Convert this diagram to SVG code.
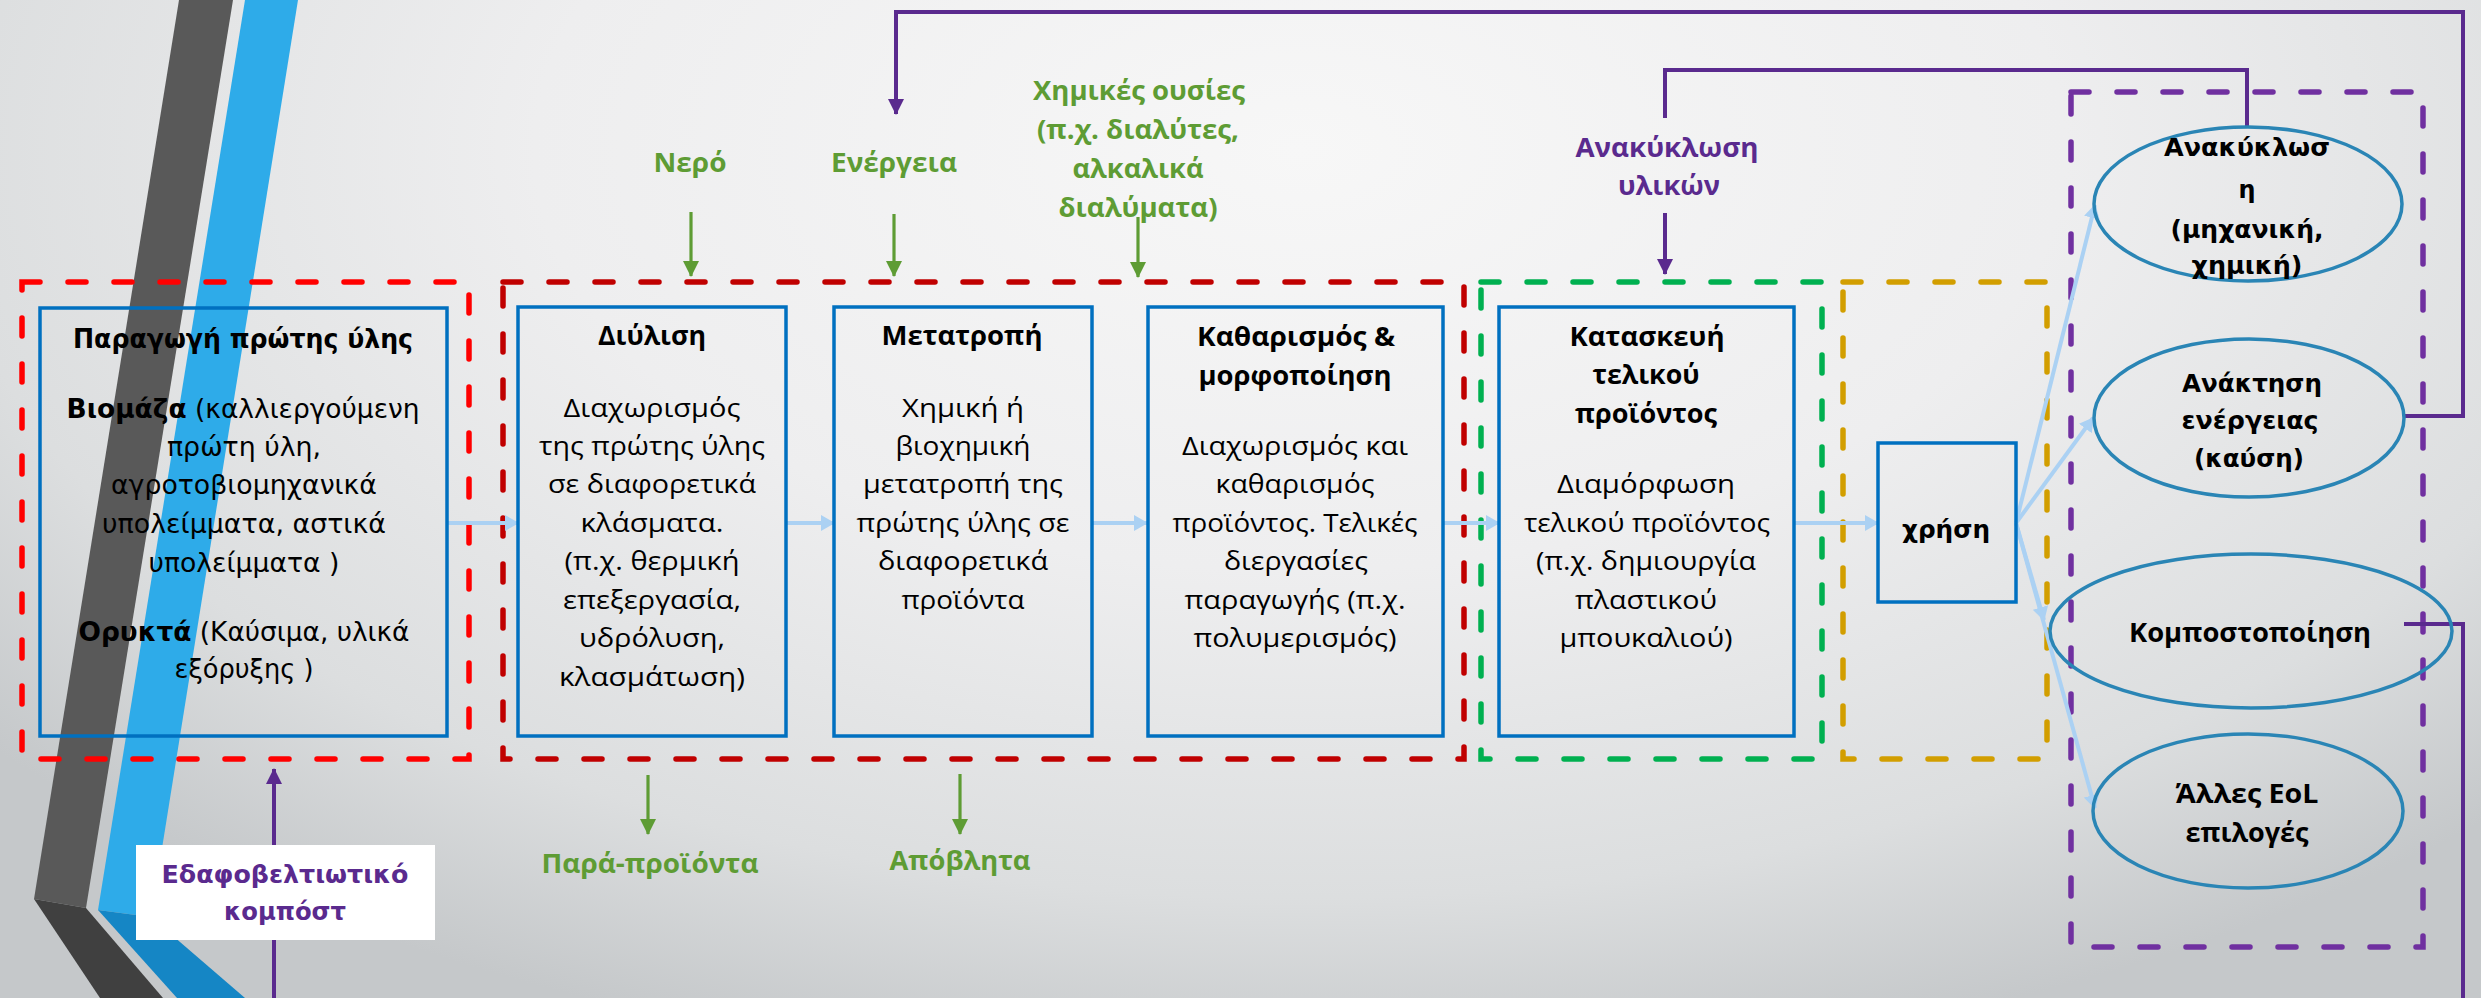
<svg xmlns="http://www.w3.org/2000/svg" width="2481" height="998" viewBox="0 0 2481 998">
<defs>
<radialGradient id="bg" cx="1300" cy="150" r="1700" gradientUnits="userSpaceOnUse" gradientTransform="translate(1300 150) scale(1 0.55) translate(-1300 -150)">
<stop offset="0" stop-color="#f7f7f7"/>
<stop offset="0.45" stop-color="#eeeeef"/>
<stop offset="0.8" stop-color="#dcdedf"/>
<stop offset="1" stop-color="#c5c8ca"/>
</radialGradient>
<marker id="ab" markerUnits="userSpaceOnUse" viewBox="0 0 14 16" markerWidth="14" markerHeight="16" refX="13" refY="8" orient="auto"><path d="M0,0 L14,8 L0,16 z" fill="#abd1f3"/></marker>
<marker id="ag" markerUnits="userSpaceOnUse" viewBox="0 0 16 16" markerWidth="16" markerHeight="16" refX="15" refY="8" orient="auto"><path d="M0,0 L16,8 L0,16 z" fill="#5e9c34"/></marker>
<marker id="ap" markerUnits="userSpaceOnUse" viewBox="0 0 16 16" markerWidth="16" markerHeight="16" refX="15" refY="8" orient="auto"><path d="M0,0 L16,8 L0,16 z" fill="#5a2a8e"/></marker>
</defs>
<style>
.frame{fill:none;stroke-width:5.5;stroke-linecap:round;stroke-dasharray:18 28}
.box{fill:none;stroke:#0070c0;stroke-width:3.5}
.ell{fill:none;stroke:#2a85b5;stroke-width:3.5}
.t{font-family:"DejaVu Sans","Noto Sans",sans-serif;font-size:26px;text-anchor:middle;fill:#000}
.c{font-family:"Open Sans","Noto Sans",sans-serif;font-size:25px;text-anchor:middle;fill:#000}
.h{font-size:27px;font-weight:bold}
.b{font-weight:bold}
.e{font-size:24px;font-weight:bold}
.g{fill:#5e9c34;font-weight:bold;font-size:27px}
.p{fill:#5a2a8e;font-weight:bold;font-size:27px}
.k{fill:#5a2a8e;font-weight:bold;font-size:25px}
.flow{stroke:#abd1f3;stroke-width:4;fill:none;marker-end:url(#ab)}
.gl{stroke:#5e9c34;stroke-width:3.2;fill:none;marker-end:url(#ag)}
.pl{stroke:#5a2a8e;stroke-width:4;fill:none}
</style>
<rect width="2481" height="998" fill="url(#bg)"/>
<g id="decor">
<polygon points="179,0 233,0 86,908 34,899" fill="#595959"/>
<polygon points="34,899 86,908 163,998 100,998" fill="#404040"/>
<polygon points="245,0 298,0 151,917 98,910" fill="#2eabe9"/>
<polygon points="98,910 151,917 245,998 177,998" fill="#1586c5"/>
</g>
<g id="frames">
<rect class="frame" x="22" y="282" width="447" height="477" stroke="#ff0000"/>
<rect class="frame" x="503" y="282" width="961" height="477" stroke="#c00000"/>
<rect class="frame" x="1481" y="282" width="341" height="477" stroke="#00b050"/>
<rect class="frame" x="1843" y="282" width="204" height="477" stroke="#d29e00"/>
<rect class="frame" x="2071" y="92" width="352" height="855" stroke="#7030a0"/>
</g>
<g id="connectors">
<path class="flow" d="M447,523 H518"/>
<path class="flow" d="M786,523 H834"/>
<path class="flow" d="M1092,523 H1147"/>
<path class="flow" d="M1443,523 H1499"/>
<path class="flow" d="M1794,523 H1878"/>
<path class="flow" d="M2016,523 L2095,205"/>
<path class="flow" d="M2016,523 L2093,418"/>
<path class="flow" d="M2016,523 L2044,620"/>
<path class="flow" d="M2016,523 L2095,808"/>
<path class="gl" d="M691,212 V276"/>
<path class="gl" d="M894,214 V276"/>
<path class="gl" d="M1138,217 V277"/>
<path class="gl" d="M648,775 V834"/>
<path class="gl" d="M960,774 V834"/>
<path class="pl" d="M1665,213 V274" marker-end="url(#ap)"/>
<path class="pl" d="M274,998 V769" marker-end="url(#ap)"/>
<path class="pl" d="M2247,127 V70 H1665 V118"/>
<path class="pl" d="M2404,416 H2463 V12 H896 V114" marker-end="url(#ap)"/>
<path class="pl" d="M2404,624 H2463 V998"/>
</g>
<g id="raw-material">
<rect class="box" x="40" y="308" width="407" height="428"/>
<text class="t b" x="243" y="348" textLength="340" lengthAdjust="spacingAndGlyphs">Παραγωγή πρώτης ύλης</text>
<text class="t" x="243" y="418" textLength="353" lengthAdjust="spacingAndGlyphs"><tspan font-weight="bold">Βιομάζα</tspan> (καλλιεργούμενη</text>
<text class="t" x="244" y="456" textLength="154" lengthAdjust="spacingAndGlyphs">πρώτη ύλη,</text>
<text class="t" x="244" y="494" textLength="266" lengthAdjust="spacingAndGlyphs">αγροτοβιομηχανικά</text>
<text class="t" x="244" y="533" textLength="284" lengthAdjust="spacingAndGlyphs">υπολείμματα, αστικά</text>
<text class="t" x="244" y="572" textLength="191" lengthAdjust="spacingAndGlyphs">υπολείμματα )</text>
<text class="t" x="244" y="641" textLength="331" lengthAdjust="spacingAndGlyphs"><tspan font-weight="bold">Ορυκτά</tspan> (Καύσιμα, υλικά</text>
<text class="t" x="244" y="678" textLength="139" lengthAdjust="spacingAndGlyphs">εξόρυξης )</text>
</g>
<g id="refining">
<rect class="box" x="518" y="307" width="268" height="429"/>
<text class="c h" x="652" y="345" textLength="108" lengthAdjust="spacingAndGlyphs">Διύλιση</text>
<text class="c" x="652" y="417" textLength="177" lengthAdjust="spacingAndGlyphs">Διαχωρισμός</text>
<text class="c" x="652" y="455" textLength="226" lengthAdjust="spacingAndGlyphs">της πρώτης ύλης</text>
<text class="c" x="652" y="493" textLength="208" lengthAdjust="spacingAndGlyphs">σε διαφορετικά</text>
<text class="c" x="652" y="532" textLength="143" lengthAdjust="spacingAndGlyphs">κλάσματα.</text>
<text class="c" x="652" y="570" textLength="175" lengthAdjust="spacingAndGlyphs">(π.χ. θερμική</text>
<text class="c" x="652" y="609" textLength="178" lengthAdjust="spacingAndGlyphs">επεξεργασία,</text>
<text class="c" x="652" y="647" textLength="146" lengthAdjust="spacingAndGlyphs">υδρόλυση,</text>
<text class="c" x="652" y="686" textLength="186" lengthAdjust="spacingAndGlyphs">κλασμάτωση)</text>
</g>
<g id="conversion">
<rect class="box" x="834" y="307" width="258" height="429"/>
<text class="c h" x="962" y="345" textLength="161" lengthAdjust="spacingAndGlyphs">Μετατροπή</text>
<text class="c" x="963" y="417" textLength="122" lengthAdjust="spacingAndGlyphs">Χημική ή</text>
<text class="c" x="963" y="455" textLength="135" lengthAdjust="spacingAndGlyphs">βιοχημική</text>
<text class="c" x="963" y="493" textLength="200" lengthAdjust="spacingAndGlyphs">μετατροπή της</text>
<text class="c" x="963" y="532" textLength="213" lengthAdjust="spacingAndGlyphs">πρώτης ύλης σε</text>
<text class="c" x="963" y="570" textLength="170" lengthAdjust="spacingAndGlyphs">διαφορετικά</text>
<text class="c" x="963" y="609" textLength="123" lengthAdjust="spacingAndGlyphs">προϊόντα</text>
</g>
<g id="purification">
<rect class="box" x="1148" y="307" width="295" height="429"/>
<text class="c h" x="1296" y="346" textLength="198" lengthAdjust="spacingAndGlyphs">Καθαρισμός &amp;</text>
<text class="c h" x="1295" y="385" textLength="193" lengthAdjust="spacingAndGlyphs">μορφοποίηση</text>
<text class="c" x="1295" y="455" textLength="226" lengthAdjust="spacingAndGlyphs">Διαχωρισμός και</text>
<text class="c" x="1295" y="493" textLength="159" lengthAdjust="spacingAndGlyphs">καθαρισμός</text>
<text class="c" x="1295" y="532" textLength="245" lengthAdjust="spacingAndGlyphs">προϊόντος. Τελικές</text>
<text class="c" x="1296" y="570" textLength="144" lengthAdjust="spacingAndGlyphs">διεργασίες</text>
<text class="c" x="1295" y="609" textLength="221" lengthAdjust="spacingAndGlyphs">παραγωγής (π.χ.</text>
<text class="c" x="1295" y="647" textLength="203" lengthAdjust="spacingAndGlyphs">πολυμερισμός)</text>
</g>
<g id="manufacture">
<rect class="box" x="1499" y="307" width="295" height="429"/>
<text class="c h" x="1647" y="346" textLength="155" lengthAdjust="spacingAndGlyphs">Κατασκευή</text>
<text class="c h" x="1646" y="384" textLength="107" lengthAdjust="spacingAndGlyphs">τελικού</text>
<text class="c h" x="1646" y="423" textLength="142" lengthAdjust="spacingAndGlyphs">προϊόντος</text>
<text class="c" x="1646" y="493" textLength="178" lengthAdjust="spacingAndGlyphs">Διαμόρφωση</text>
<text class="c" x="1647" y="532" textLength="246" lengthAdjust="spacingAndGlyphs">τελικού προϊόντος</text>
<text class="c" x="1646" y="570" textLength="220" lengthAdjust="spacingAndGlyphs">(π.χ. δημιουργία</text>
<text class="c" x="1646" y="609" textLength="142" lengthAdjust="spacingAndGlyphs">πλαστικού</text>
<text class="c" x="1646" y="647" textLength="173" lengthAdjust="spacingAndGlyphs">μπουκαλιού)</text>
</g>
<g id="use">
<rect class="box" x="1878" y="443" width="138" height="159"/>
<text class="t e" x="1946" y="538" textLength="88" lengthAdjust="spacingAndGlyphs">χρήση</text>
</g>
<g id="recycling">
<ellipse class="ell" cx="2248" cy="204" rx="154" ry="77"/>
<text class="t e" x="2247" y="156" textLength="166" lengthAdjust="spacingAndGlyphs">Ανακύκλωσ</text>
<text class="t e" x="2247" y="198" textLength="17" lengthAdjust="spacingAndGlyphs">η</text>
<text class="t e" x="2247" y="238" textLength="153" lengthAdjust="spacingAndGlyphs">(μηχανική,</text>
<text class="t e" x="2247" y="274" textLength="111" lengthAdjust="spacingAndGlyphs">χημική)</text>
</g>
<g id="energy-recovery">
<ellipse class="ell" cx="2249" cy="418" rx="155" ry="79"/>
<text class="t e" x="2252" y="392" textLength="140" lengthAdjust="spacingAndGlyphs">Ανάκτηση</text>
<text class="t e" x="2250" y="429" textLength="137" lengthAdjust="spacingAndGlyphs">ενέργειας</text>
<text class="t e" x="2249" y="467" textLength="110" lengthAdjust="spacingAndGlyphs">(καύση)</text>
</g>
<g id="composting">
<ellipse class="ell" cx="2251" cy="631" rx="201" ry="77"/>
<text class="c h" x="2250" y="642" textLength="242" lengthAdjust="spacingAndGlyphs">Κομποστοποίηση</text>
</g>
<g id="other-eol">
<ellipse class="ell" cx="2248" cy="811" rx="155" ry="77"/>
<text class="c h" x="2247" y="803" textLength="143" lengthAdjust="spacingAndGlyphs">Άλλες EoL</text>
<text class="c h" x="2247" y="842" textLength="123" lengthAdjust="spacingAndGlyphs">επιλογές</text>
</g>
<g id="inputs">
<text class="c g" x="690" y="172" textLength="73" lengthAdjust="spacingAndGlyphs">Νερό</text>
<text class="c g" x="894" y="172" textLength="126" lengthAdjust="spacingAndGlyphs">Ενέργεια</text>
<text class="c g" x="1139" y="100" textLength="212" lengthAdjust="spacingAndGlyphs">Χημικές ουσίες</text>
<text class="c g" x="1138" y="139" textLength="202" lengthAdjust="spacingAndGlyphs">(π.χ. διαλύτες,</text>
<text class="c g" x="1138" y="178" textLength="131" lengthAdjust="spacingAndGlyphs">αλκαλικά</text>
<text class="c g" x="1138" y="217" textLength="159" lengthAdjust="spacingAndGlyphs">διαλύματα)</text>
</g>
<g id="outputs">
<text class="c g" x="650" y="873" textLength="217" lengthAdjust="spacingAndGlyphs">Παρά-προϊόντα</text>
<text class="c g" x="960" y="870" textLength="141" lengthAdjust="spacingAndGlyphs">Απόβλητα</text>
</g>
<g id="material-recycling">
<text class="c p" x="1667" y="157" textLength="183" lengthAdjust="spacingAndGlyphs">Ανακύκλωση</text>
<text class="c p" x="1669" y="195" textLength="102" lengthAdjust="spacingAndGlyphs">υλικών</text>
</g>
<g id="compost">
<rect x="136" y="845" width="299" height="95" fill="#ffffff"/>
<text class="t k" x="285" y="883" textLength="247" lengthAdjust="spacingAndGlyphs">Εδαφοβελτιωτικό</text>
<text class="t k" x="285" y="920" textLength="122" lengthAdjust="spacingAndGlyphs">κομπόστ</text>
</g>
</svg>
